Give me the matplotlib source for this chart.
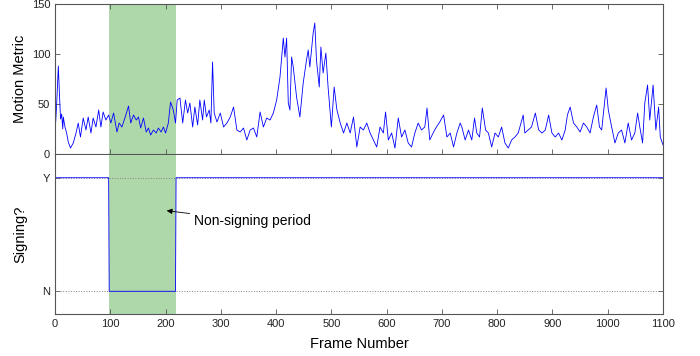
import matplotlib
matplotlib.use("Agg")
import matplotlib.pyplot as plt

plt.rcParams["font.family"] = ["Liberation Sans", "DejaVu Sans"]

# valores (frame, motion metric)
frames = [0, 3, 6, 8, 10, 12, 14, 15, 18, 21, 24, 28, 33, 38, 42, 46, 51, 56, 60, 65,
          69, 74, 79, 83, 87, 92, 97, 101, 106, 112, 116, 121, 127, 133, 137, 142, 147,
          151, 155, 160, 165, 169, 173, 178, 183, 187, 192, 196, 200, 205, 209, 214,
          218, 221, 226, 231, 236, 240, 244, 249, 253, 258, 262, 267, 270, 274, 279,
          282, 285, 288, 293, 299, 305, 311, 317, 323, 329, 335, 341, 347, 353, 359,
          365, 371, 377, 383, 389, 395, 401, 407, 413, 416, 419, 422, 425, 428, 431,
          437, 443, 449, 455, 458, 461, 467, 470, 473, 478, 481, 485, 490, 494, 500,
          505, 510, 516, 522, 528, 534, 540, 546, 552, 558, 564, 570, 576, 582, 588,
          594, 598, 603, 609, 615, 621, 627, 633, 639, 645, 651, 657, 663, 669, 673,
          678, 684, 690, 696, 703, 709, 715, 721, 727, 733, 736, 742, 748, 754, 759,
          763, 768, 773, 779, 784, 790, 796, 802, 808, 814, 820, 826, 832, 838, 847,
          850, 856, 862, 869, 875, 881, 887, 893, 899, 905, 911, 917, 923, 927, 932,
          938, 944, 950, 956, 962, 968, 974, 980, 985, 989, 997, 1001, 1007, 1013,
          1019, 1025, 1031, 1037, 1043, 1049, 1054, 1058, 1063, 1067, 1072, 1076,
          1082, 1087, 1092, 1095, 1100]
metric = [20, 50, 88, 60, 35, 40, 25, 37, 27, 21, 12, 6, 11, 21, 31, 17, 36, 24, 37, 21,
          36, 27, 44, 27, 42, 34, 39, 31, 41, 22, 31, 27, 37, 48, 31, 39, 34,
          37, 26, 36, 22, 26, 19, 24, 21, 26, 22, 27, 21, 31, 52, 44,
          31, 54, 56, 31, 54, 41, 51, 27, 47, 29, 54, 34, 54, 37, 44,
          31, 92, 41, 32, 41, 27, 31, 37, 47, 24, 22, 26, 14, 24, 26,
          17, 42, 27, 36, 34, 41, 54, 77, 116, 97, 116, 51, 44, 97, 87,
          57, 37, 71, 94, 104, 87, 121, 131, 94, 67, 107, 81, 101, 67, 27,
          67, 44, 31, 21, 31, 21, 37, 7, 27, 24, 31, 21, 14, 7, 27,
          21, 42, 14, 21, 6, 36, 17, 24, 11, 7, 21, 31, 24, 27, 46,
          14, 21, 27, 32, 39, 17, 21, 7, 21, 31, 27, 14, 24, 14, 36,
          21, 17, 46, 24, 21, 7, 21, 17, 27, 11, 6, 14, 17, 21, 39,
          21, 24, 27, 41, 24, 21, 24, 39, 21, 17, 21, 14, 24, 39, 47,
          31, 27, 22, 31, 27, 21, 37, 49, 27, 24, 66, 44, 27, 11,
          21, 24, 11, 31, 14, 21, 41, 27, 11, 51, 69, 34,
          69, 24, 47, 17, 9]

signing_frames = [0, 97, 98, 218, 219, 1100]
signing = [1, 1, 0, 0, 1, 1]

periodo = (98, 218)
x_ticks = list(range(0, 1101, 100))
grey = "#555555"

fig = plt.figure(figsize=(7, 3.56), dpi=100)
ax1 = fig.add_axes([0.0786, 0.5674, 0.8686, 0.4213])
ax2 = fig.add_axes([0.0786, 0.118, 0.8686, 0.4466])

for ax in (ax1, ax2):
    ax.axvspan(*periodo, color="#afd8aa", lw=0, zorder=0)
    ax.set_xlim(0, 1100)
    ax.set_xticks(x_ticks)
    ax.tick_params(direction="in", top=True, right=True, length=3.5,
                   width=0.6, color=grey, labelsize=8, labelcolor="#222222")
    for s in ax.spines.values():
        s.set_color(grey)
        s.set_linewidth(0.8)

# so uma linha entre os dois paineis
ax2.spines["top"].set_visible(False)
ax2.tick_params(top=False)

ax1.plot(frames, metric, color="blue", lw=0.6)
ax1.set_ylim(0, 150)
ax1.set_yticks([0, 50, 100, 150])
ax1.tick_params(labelbottom=False)
ax1.set_ylabel("Motion Metric", fontsize=10.5)

ax2.axhline(1, color="grey", ls=":", lw=0.7)
ax2.axhline(0, color="grey", ls=":", lw=0.7)
ax2.plot(signing_frames, signing, color="blue", lw=0.6)
ax2.set_ylim(-0.2, 1.2)
ax2.set_yticks([0, 1])
ax2.set_yticklabels(["N", "Y"])
ax2.set_ylabel("Signing?", fontsize=10.5)
ax2.set_xlabel("Frame Number", fontsize=10.5, labelpad=6)
ax2.annotate("Non-signing period", xy=(202, 0.71), xytext=(251, 0.615),
             fontsize=10, va="center",
             arrowprops=dict(arrowstyle="-|>", color="black", lw=0.6,
                             mutation_scale=8, shrinkA=1, shrinkB=0))

for ax in (ax1, ax2):
    ax.yaxis.set_label_coords(-0.046, 0.5)

fig.savefig("out.png", dpi=100)
